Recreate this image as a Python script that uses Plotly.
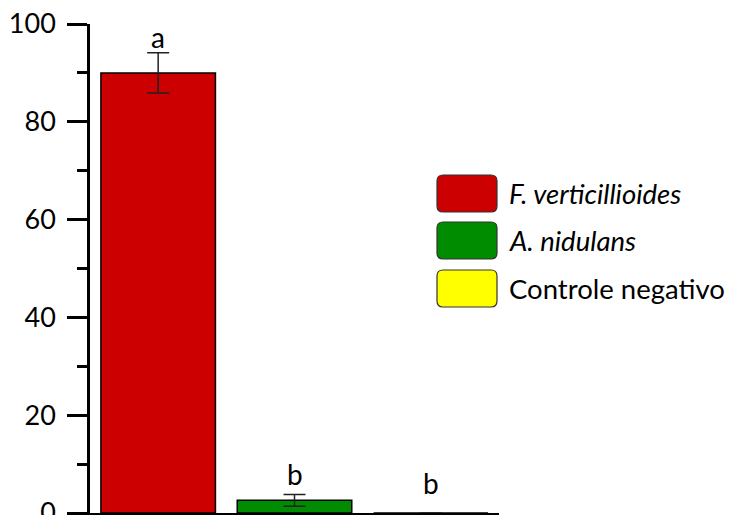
import plotly.graph_objects as go

categories = ["F. verticillioides", "A. nidulans", "Controle negativo"]
values = [90.0, 2.6, 0.0]
errors = [4.1, 1.2, 0.0]
letters = ["a", "b", "b"]
colors = ["#CC0000", "#008C00", "#FFFF00"]
legend_labels = ["<i>F. verticillioides</i>", "<i>A. nidulans</i>", "Controle negativo"]
y_ticks = [0, 20, 40, 60, 80, 100]

FONT = "Lato"
FS = 28
LEG_FS = 27.5

fig = go.Figure()
fig.add_trace(go.Bar(
    x=list(range(len(categories))), y=values,
    marker=dict(color=colors, line=dict(color="black", width=1.5)),
    width=0.84,
    error_y=dict(type="data", array=errors, visible=True, color="#222222", thickness=1.5, width=11),
    showlegend=False,
))

# significance letters
letter_y = [97.4, 8.0, 6.2]
for i, (l, ly) in enumerate(zip(letters, letter_y)):
    fig.add_annotation(x=i, y=ly, text=l, showarrow=False, xref="x", yref="y",
                       font=dict(family=FONT, size=FS, color="black"), yanchor="middle")

# custom legend (positions in page pixels of the plot frame)
PX0, PY0, PW, PH = 90.0, 513.0, 409.0, 489.0
def px2x(px):
    return (px - PX0) / PW
def py2y(py):
    return (PY0 - py) / PH

def rounded(x0, y0, x1, y1, r=6):
    X0, X1 = px2x(x0), px2x(x1)
    Y0, Y1 = py2y(y0), py2y(y1)
    rx, ry = r / PW, r / PH
    return (f"M {X0+rx},{Y0} L {X1-rx},{Y0} Q {X1},{Y0} {X1},{Y0-ry} "
            f"L {X1},{Y1+ry} Q {X1},{Y1} {X1-rx},{Y1} L {X0+rx},{Y1} "
            f"Q {X0},{Y1} {X0},{Y1+ry} L {X0},{Y0-ry} Q {X0},{Y0} {X0+rx},{Y0} Z")

row_top = [175, 222, 270]
for top, c, lab in zip(row_top, colors, legend_labels):
    fig.add_shape(type="path", path=rounded(437, top, 497, top + 37), xref="paper", yref="paper",
                  fillcolor=c, line=dict(color="#333333", width=1.2))
    fig.add_annotation(x=px2x(507), y=py2y(top + 18.5), xref="paper", yref="paper",
                       text=lab, showarrow=False, xanchor="left", yanchor="middle",
                       font=dict(family=FONT, size=LEG_FS, color="black"))

fig.update_layout(
    width=724, height=507,
    margin=dict(l=82, r=233, t=16, b=2, autoexpand=False),
    plot_bgcolor="white", paper_bgcolor="white",
    font=dict(family=FONT, size=FS, color="black"),
    xaxis=dict(range=[-0.5, 2.5], showline=True, linecolor="black", linewidth=2.5,
               tickvals=[-0.5, 2.5], ticktext=["", ""], ticks="outside", ticklen=20,
               tickwidth=2.5, tickcolor="black", showgrid=False, zeroline=False, automargin=False),
    yaxis=dict(range=[0, 100], showline=True, linecolor="black", linewidth=2.5,
               tickvals=y_ticks, ticks="outside", ticklen=20, tickwidth=2.5, tickcolor="black",
               ticklabelstandoff=6, automargin=False, ticklabeloverflow="allow",
               minor=dict(dtick=10, tick0=10, ticks="outside", ticklen=10, tickwidth=2.5, tickcolor="black"),
               showgrid=False, zeroline=False,
               tickfont=dict(family=FONT, size=27, color="black")),
)

fig.write_html("out.html")
